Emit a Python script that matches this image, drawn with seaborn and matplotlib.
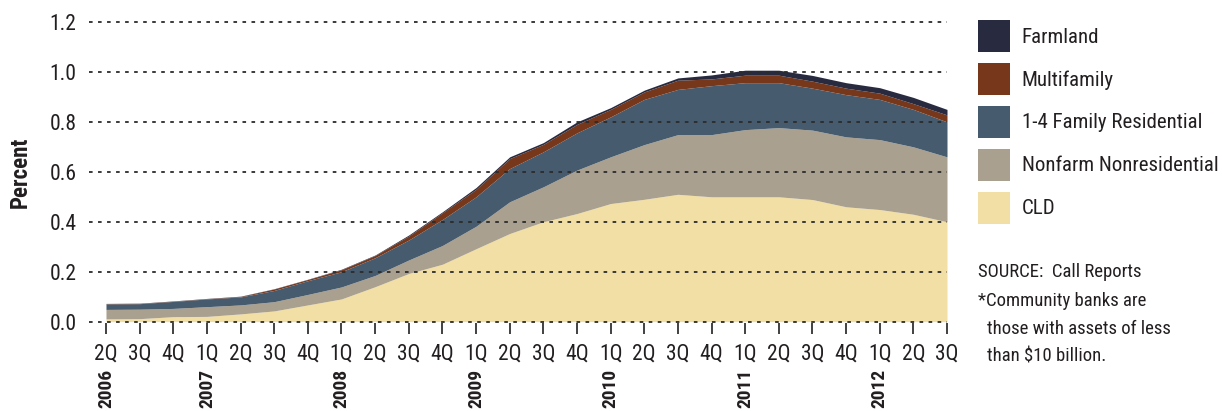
import numpy as np
import seaborn as sns
import matplotlib.pyplot as plt

# quarterly data, 2Q2006 - 3Q2012 (percent, stacked pieces)
quarters = ['2Q', '3Q', '4Q',
            '1Q', '2Q', '3Q', '4Q',
            '1Q', '2Q', '3Q', '4Q',
            '1Q', '2Q', '3Q', '4Q',
            '1Q', '2Q', '3Q', '4Q',
            '1Q', '2Q', '3Q', '4Q',
            '1Q', '2Q', '3Q']
year_labels = ['2006', '2007', '2008', '2009', '2010', '2011', '2012']
year_pos = [0, 3, 7, 11, 15, 19, 23]

cld = [0.011, 0.012, 0.020, 0.021, 0.031, 0.043, 0.067, 0.091, 0.140, 0.193, 0.230, 0.292, 0.353,
       0.400, 0.433, 0.473, 0.490, 0.510, 0.500, 0.500, 0.500, 0.489, 0.460, 0.449, 0.430, 0.400]
nonfarm = [0.038, 0.038, 0.033, 0.039, 0.036, 0.037, 0.042, 0.048, 0.045, 0.054, 0.075, 0.090, 0.127,
           0.140, 0.174, 0.187, 0.219, 0.239, 0.249, 0.269, 0.277, 0.278, 0.280, 0.280, 0.270, 0.260]
res14 = [0.022, 0.022, 0.028, 0.031, 0.032, 0.045, 0.055, 0.061, 0.071, 0.080, 0.104, 0.118, 0.133,
         0.140, 0.149, 0.160, 0.181, 0.181, 0.196, 0.188, 0.180, 0.168, 0.169, 0.161, 0.150, 0.140]
multifamily = [0.001, 0.001, 0.001, 0.001, 0.002, 0.006, 0.005, 0.008, 0.009, 0.016, 0.027, 0.030, 0.040,
               0.030, 0.034, 0.030, 0.030, 0.037, 0.027, 0.030, 0.030, 0.028, 0.026, 0.025, 0.023, 0.028]
farmland = [0.001, 0.001, 0.001, 0.001, 0.001, 0.001, 0.001, 0.002, 0.002, 0.004, 0.004, 0.007, 0.007,
            0.007, 0.010, 0.007, 0.007, 0.009, 0.016, 0.020, 0.020, 0.023, 0.022, 0.022, 0.025, 0.022]

names = ['CLD', 'Nonfarm Nonresidential', '1-4 Family Residential', 'Multifamily', 'Farmland']
colors = ['#f2dfa6', '#a9a090', '#465b6e', '#77371b', '#282b40']
yticks = [0.0, 0.2, 0.4, 0.6, 0.8, 1.0, 1.2]

sns.set_theme(style="white")
plt.rcParams['font.family'] = ['Roboto Condensed', 'DejaVu Sans']
txt = '#231f20'

fig = plt.figure(figsize=(12.22, 4.11), dpi=100)
ax = fig.add_axes([89/1222, 1-322.9/411, (947-89)/1222, (322.9-20.75)/411])

x = np.arange(len(quarters))
ax.stackplot(x, cld, nonfarm, res14, multifamily, farmland,
             colors=colors, labels=names, linewidth=0)

ax.set_xlim(-0.505, 25)
ax.set_ylim(-0.005, 1.205)
ax.set_yticks(yticks)
ax.set_yticklabels([f'{v:.1f}' for v in yticks])
ax.set_xticks(x)
ax.set_xticklabels(quarters)

# dotted gridlines on top of the areas
ax.grid(axis='y', color='#2b2b2b', linestyle=(0, (2, 3)), linewidth=1.3)
ax.grid(axis='x', visible=False)
ax.set_axisbelow(False)
sns.despine(ax=ax, left=True, bottom=True)
ax.tick_params(axis='y', length=0, pad=9, labelsize=15.5, labelcolor=txt)
ax.tick_params(axis='x', bottom=True, length=8, width=1.3, color='#333333',
               pad=7, labelsize=15.5, labelcolor=txt, direction='out')

for yl, p in zip(year_labels, year_pos):
    ax.text(p, -0.1526, yl, transform=ax.get_xaxis_transform(), rotation=90,
            ha='center', va='top', fontsize=14, fontweight='bold', color=txt)

fig.text(20/1222, 1-172/411, 'Percent', rotation=90, ha='center', va='center',
         fontsize=16.5, fontweight='bold', color=txt)

# legend, Farmland on top (square swatches ~32px)
h, l = ax.get_legend_handles_labels()
leg = fig.legend(h[::-1], l[::-1], loc='upper left', bbox_to_anchor=(978/1222, 1-20/411),
                 frameon=False, fontsize=15, handlelength=1.54, handleheight=1.99,
                 labelspacing=0.52, handletextpad=0.55, borderpad=0, borderaxespad=0)
for t in leg.get_texts():
    t.set_color(txt)

# source note
fs = 13.5
fig.text(978/1222, 1-277/411, 'SOURCE:  Call Reports', fontsize=fs, color=txt, va='baseline')
fig.text(978/1222, 1-305.5/411, '*Community banks are', fontsize=fs, color=txt, va='baseline')
fig.text(987/1222, 1-333.5/411, 'those with assets of less', fontsize=fs, color=txt, va='baseline')
fig.text(987/1222, 1-361.5/411, 'than $10 billion.', fontsize=fs, color=txt, va='baseline')

fig.savefig('out.png', dpi=100)
